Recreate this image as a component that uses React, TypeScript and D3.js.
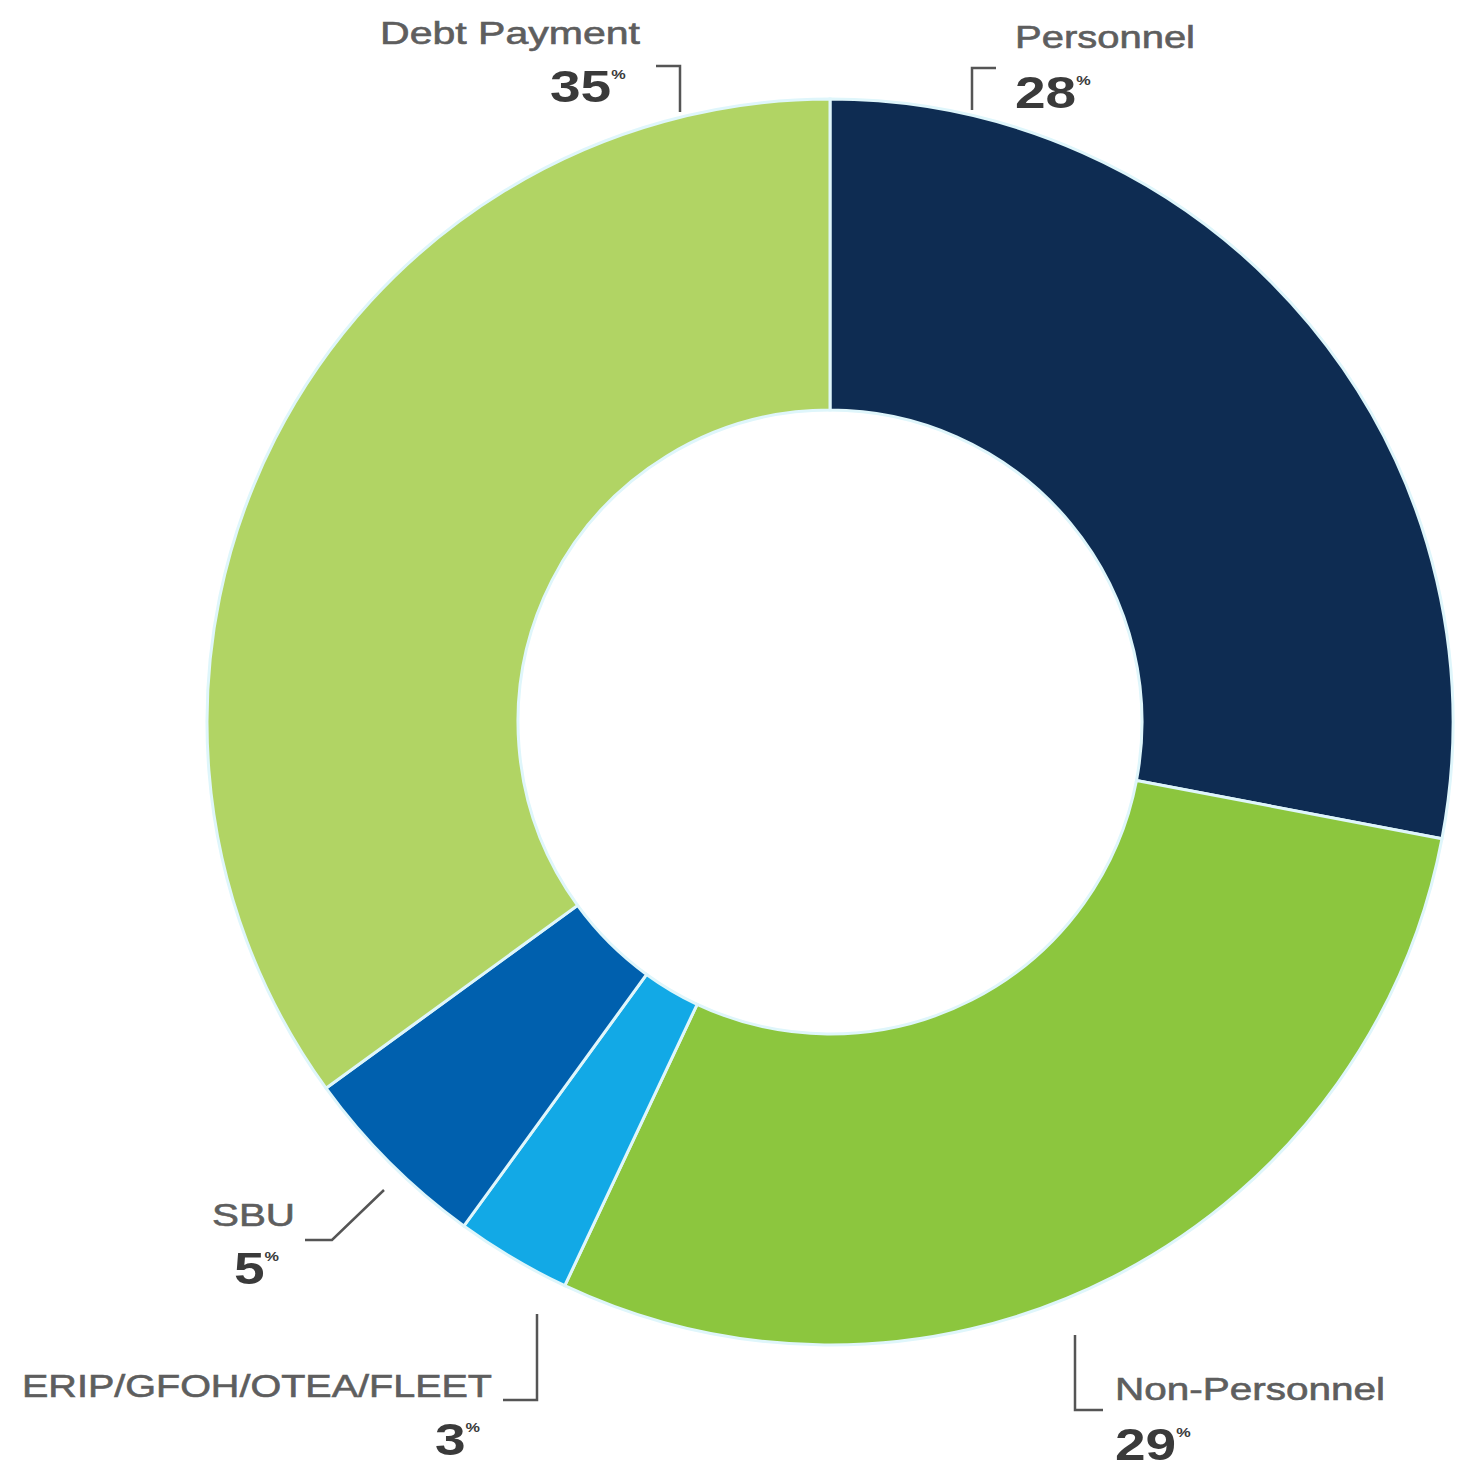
import React from 'react'
import * as d3 from 'd3'

const categories = ['Personnel', 'Non-Personnel', 'ERIP/GFOH/OTEA/FLEET', 'SBU', 'Debt Payment']
const shares = [28, 29, 3, 5, 35]
const colors = ['#0e2c52', '#8cc63e', '#12a9e6', '#0060ae', '#b1d464']

// label placement (text anchor point, rendered width, leader line path)
const labelLayout = [
  { x: 1015, y: 48, w: 180, leader: [[996, 68], [972, 68], [972, 110]] },
  { x: 1115, y: 1400, w: 270, leader: [[1075, 1335], [1075, 1410], [1103, 1410]] },
  { x: 22, y: 1397, w: 470, leader: [[503, 1400], [537, 1400], [537, 1314]] },
  { x: 212, y: 1226, w: 83, leader: [[305, 1240], [332, 1240], [384, 1190]] },
  { x: 380, y: 44, w: 260, leader: [[656, 66], [680, 66], [680, 112]] },
]
const pctPos = [
  { x: 1015, y: 108 },
  { x: 1115, y: 1460 },
  { x: 435, y: 1455 },
  { x: 234, y: 1284 },
  { x: 550, y: 102 },
]

const cx = 830
const cy = 722
const outerR = 623
const innerR = 312

export default function App() {
  const pie = d3.pie<number>().sort(null).value((d) => d)
  const arcs = pie(shares)
  const arc = d3.arc<d3.PieArcDatum<number>>().innerRadius(innerR).outerRadius(outerR)
  const line = d3.line()

  return (
    <svg width={1461} height={1470} style={{ position: 'absolute', left: 0, top: 0, background: '#fff' }}>
      <g transform={`translate(${cx},${cy})`}>
        {arcs.map((a, i) => (
          <path key={categories[i]} d={arc(a) || ''} fill={colors[i]} stroke="#dff6fb" strokeWidth={3} />
        ))}
      </g>
      {categories.map((c, i) => {
        const l = labelLayout[i]
        const p = pctPos[i]
        return (
          <g key={c} fontFamily="'Liberation Sans', Arial, sans-serif">
            <path d={line(l.leader as [number, number][]) || ''} fill="none" stroke="#555" strokeWidth={2.5} />
            <text
              x={l.x}
              y={l.y}
              fontSize={31}
              fill="#5e5e5e"
              stroke="#5e5e5e"
              strokeWidth={0.6}
              textLength={l.w}
              lengthAdjust="spacingAndGlyphs"
            >
              {c}
            </text>
            <g transform={`translate(${p.x},${p.y}) scale(1.25,1)`}>
              <text x={0} y={0} fontSize={44} fontWeight="bold" fill="#3a3a3a">
                {shares[i]}
                <tspan fontSize={13} dy={-23}>%</tspan>
              </text>
            </g>
          </g>
        )
      })}
    </svg>
  )
}
